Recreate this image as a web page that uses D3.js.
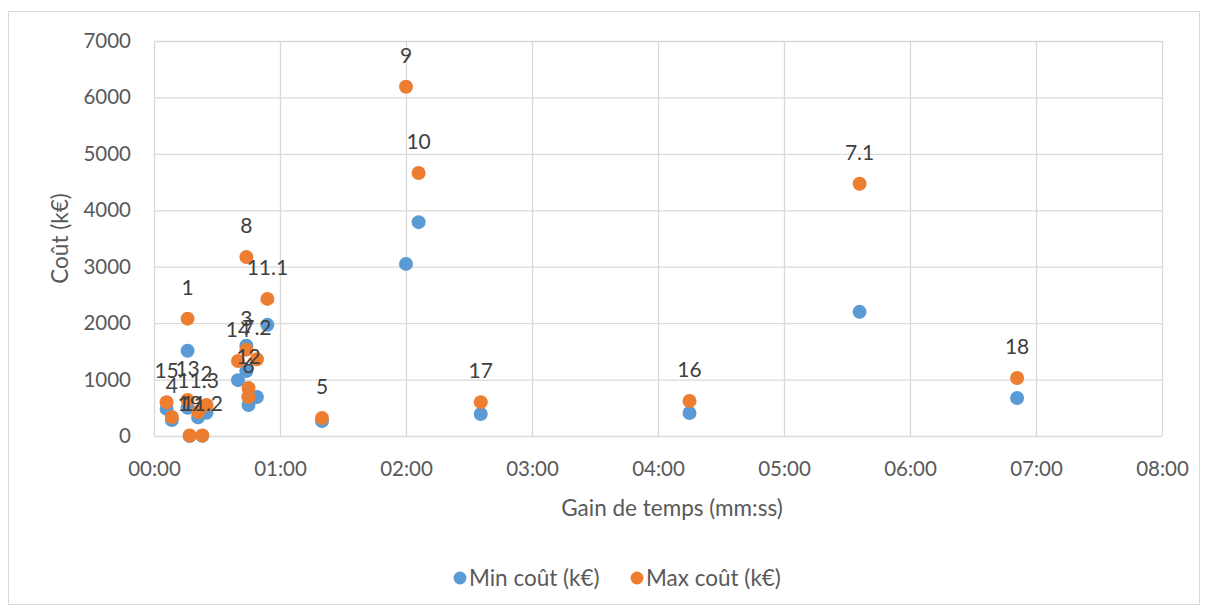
<!DOCTYPE html>
<html lang="fr">
	<head>
		<meta charset="utf-8">
		<title>Coût vs gain de temps</title>
		<script type="text/javascript" src="https://cdn.jsdelivr.net/npm/d3@7"></script>
		<style type="text/css">
		body { margin: 0; background: #fff; }
		text { font-family: Lato, "Open Sans", sans-serif; }
		.grid line { stroke: #d9d9d9; stroke-width: 1.3; }
		.tick text { fill: #595959; font-size: 20.5px; }
		</style>
	</head>
	<body>
		<script type="text/javascript">

		//Data: one entry per measure
		var ids     = ["1", "2", "3", "4", "5", "6", "7.1", "7.2", "8", "9", "10",
		               "11.1", "11.2", "11.3", "12", "13", "14", "15", "16", "17", "18", "19"];
		var gainSec = [16, 25, 44, 8.5, 80, 45, 336, 49, 44, 120, 126,
		               54, 23, 21, 45, 16, 40, 6, 255, 155.6, 411, 17];
		var minCost = [1510, 410, 1150, 284, 266, 550, 2200, 690, 1600, 3050, 3790,
		               1970, 5, 330, 700, 500, 990, 480, 408, 390, 674, 0];
		var maxCost = [2080, 550, 1530, 337, 320, 690, 4470, 1360, 3170, 6190, 4660,
		               2430, 10, 425, 850, 640, 1330, 600, 620, 600, 1028, 10];

		var xTicks = [0, 60, 120, 180, 240, 300, 360, 420, 480];
		var yTicks = [0, 1000, 2000, 3000, 4000, 5000, 6000, 7000];

		var seriesNames = ["Min coût (k€)", "Max coût (k€)"];
		var seriesColors = ["#5b9bd5", "#ed7d31"];

		//Width and height
		var w = 1208;
		var h = 609;
		var plot = { left: 154, right: 1162, top: 41, bottom: 436 };

		var svg = d3.select("body")
					.append("svg")
					.attr("width", w)
					.attr("height", h);

		//Chart frame
		svg.append("rect")
			.attr("x", 8.5).attr("y", 11.5)
			.attr("width", 1191).attr("height", 593)
			.attr("fill", "#fff")
			.attr("stroke", "#d9d9d9");

		var xScale = d3.scaleLinear()
						.domain([0, 480])
						.range([plot.left, plot.right]);

		var yScale = d3.scaleLinear()
						.domain([0, 7000])
						.range([plot.bottom, plot.top]);

		var fmtTime = function(s) {
			var m = Math.floor(s / 60), r = Math.round(s % 60);
			return (m < 10 ? "0" : "") + m + ":" + (r < 10 ? "0" : "") + r;
		};

		//Gridlines + tick labels
		var xAxis = d3.axisBottom(xScale)
						.tickValues(xTicks)
						.tickSize(-(plot.bottom - plot.top))
						.tickPadding(25)
						.tickFormat(fmtTime);

		var yAxis = d3.axisLeft(yScale)
						.tickValues(yTicks)
						.tickSize(-(plot.right - plot.left))
						.tickPadding(23)
						.tickFormat(d3.format("d"));

		svg.append("g")
			.attr("class", "grid")
			.attr("transform", "translate(0," + plot.bottom + ")")
			.call(xAxis)
			.call(function(g) { g.select(".domain").remove(); });

		svg.append("g")
			.attr("class", "grid")
			.attr("transform", "translate(" + plot.left + ",0)")
			.call(yAxis)
			.call(function(g) { g.select(".domain").remove(); });

		//Axis titles
		svg.append("text")
			.attr("x", 672)
			.attr("y", 516)
			.attr("text-anchor", "middle")
			.attr("fill", "#595959")
			.style("font-size", "22.5px")
			.text("Gain de temps (mm:ss)");

		svg.append("text")
			.attr("transform", "translate(68," + ((plot.top + plot.bottom) / 2) + ") rotate(-90)")
			.attr("text-anchor", "middle")
			.attr("fill", "#595959")
			.style("font-size", "22.5px")
			.text("Coût (k€)");

		//Points, min first so max sits on top
		var rows = ids.map(function(id, i) {
			return { id: id, x: gainSec[i], min: minCost[i], max: maxCost[i] };
		});

		[minCost, maxCost].forEach(function(vals, s) {
			svg.append("g")
				.selectAll("circle")
				.data(rows)
				.enter()
				.append("circle")
				.attr("cx", function(d) { return xScale(d.x); })
				.attr("cy", function(d, i) { return yScale(vals[i]); })
				.attr("r", 7)
				.attr("fill", seriesColors[s]);
		});

		//Labels above max points
		svg.append("g")
			.selectAll("text")
			.data(rows)
			.enter()
			.append("text")
			.attr("x", function(d) { return xScale(d.x); })
			.attr("y", function(d) { return yScale(d.max) - 24; })
			.attr("text-anchor", "middle")
			.attr("fill", "#404040")
			.style("font-size", "21px")
			.text(function(d) { return d.id; });

		//Legend
		var legendX = [460, 637];
		var legend = svg.append("g");
		seriesNames.forEach(function(name, i) {
			legend.append("circle")
				.attr("cx", legendX[i]).attr("cy", 578)
				.attr("r", 6.5)
				.attr("fill", seriesColors[i]);
			legend.append("text")
				.attr("x", legendX[i] + 9).attr("y", 586)
				.attr("fill", "#595959")
				.style("font-size", "22.5px")
				.text(name);
		});

		</script>
	</body>
</html>
